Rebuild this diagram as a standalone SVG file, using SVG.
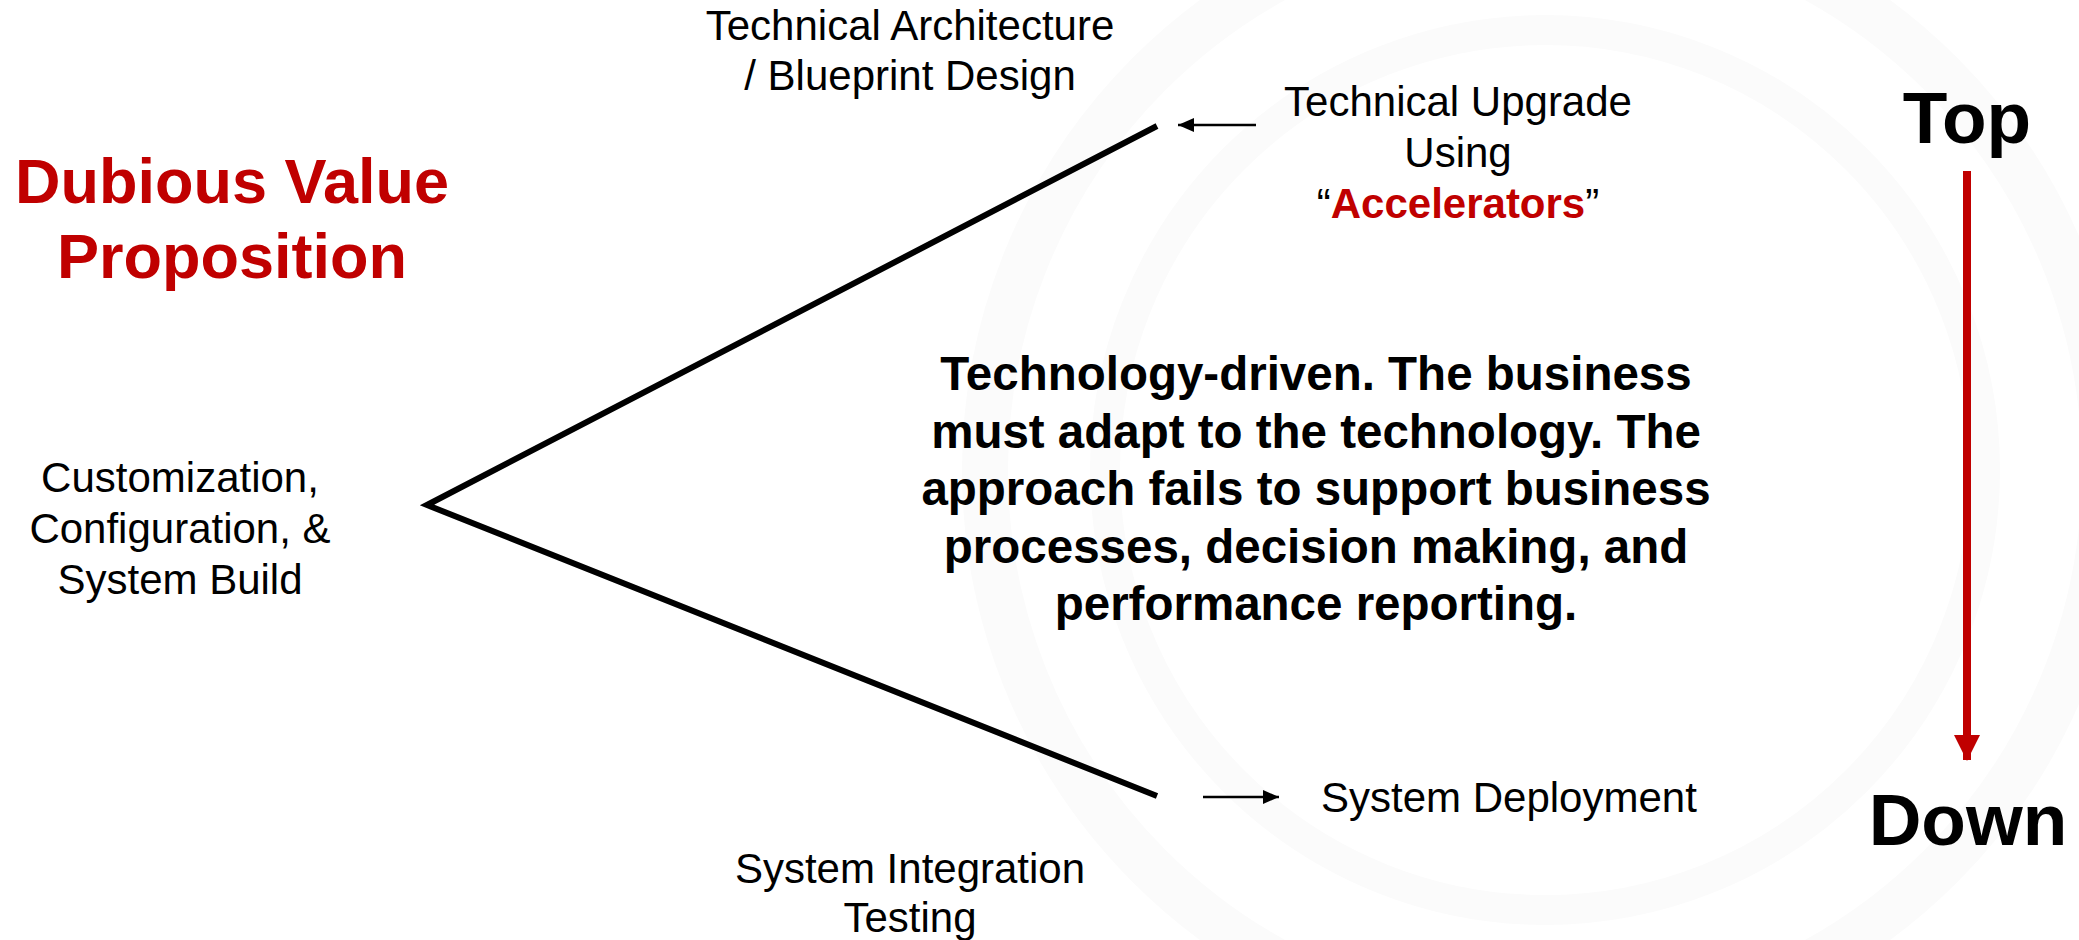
<svg xmlns="http://www.w3.org/2000/svg" width="2079" height="940" viewBox="0 0 2079 940">
<defs>
<style>
.t{font-family:"Liberation Sans",Arial,sans-serif;font-size:42px;fill:#000;text-anchor:middle}
.b{font-family:"Liberation Sans",Arial,sans-serif;font-weight:bold;text-anchor:middle}
.red{fill:#C00000}
.edge{stroke:#000;stroke-width:6;fill:none;stroke-linejoin:miter}
.thin{stroke:#000;stroke-width:2.5;fill:none}
.wm{fill:none;stroke:#fbfbfb}
</style>
<marker id="ah" viewBox="0 0 16 14" refX="16" refY="7" markerWidth="16" markerHeight="14" markerUnits="userSpaceOnUse" orient="auto">
<path d="M0,0 L16,7 L0,14 Z" fill="#000"/>
</marker>
<marker id="ahr" viewBox="0 0 26 26" refX="13" refY="25" markerWidth="26" markerHeight="26" markerUnits="userSpaceOnUse" orient="0">
<path d="M0,0 L26,0 L13,26 Z" fill="#C00000"/>
</marker>
</defs>
<rect width="2079" height="940" fill="#fff"/>
<g id="watermark">
<circle class="wm" cx="1545" cy="470" r="560" stroke-width="46"/>
<circle class="wm" cx="1545" cy="470" r="440" stroke-width="30"/>
</g>
<g id="title">
<text class="b red" x="232" y="203" font-size="63">Dubious Value</text>
<text class="b red" x="232" y="278" font-size="63">Proposition</text>
</g>
<g id="connectors">
<polyline class="edge" points="1157,126 427,505 1157,796"/>
<line class="thin" x1="1256" y1="125" x2="1178" y2="125" marker-end="url(#ah)"/>
<line class="thin" x1="1203" y1="797" x2="1279" y2="797" marker-end="url(#ah)"/>
<line x1="1967" y1="171" x2="1967" y2="760" stroke="#C00000" stroke-width="8" marker-end="url(#ahr)"/>
</g>
<g id="node-architecture">
<text class="t" x="910" y="40">Technical Architecture</text>
<text class="t" x="910" y="90">/ Blueprint Design</text>
</g>
<g id="node-upgrade">
<text class="t" x="1458" y="116">Technical Upgrade</text>
<text class="t" x="1458" y="167">Using</text>
<text class="t" x="1458" y="218">“<tspan class="red" font-weight="bold">Accelerators</tspan>”</text>
</g>
<g id="node-build">
<text class="t" x="180" y="492">Customization,</text>
<text class="t" x="180" y="543">Configuration, &amp;</text>
<text class="t" x="180" y="594">System Build</text>
</g>
<g id="node-sit">
<text class="t" x="910" y="883">System Integration</text>
<text class="t" x="910" y="932">Testing</text>
</g>
<g id="node-deployment">
<text class="t" x="1321" y="812" style="text-anchor:start">System Deployment</text>
</g>
<g id="statement">
<text class="b" x="1316" y="390" font-size="47.5">Technology-driven. The business</text>
<text class="b" x="1316" y="448" font-size="47.5">must adapt to the technology. The</text>
<text class="b" x="1316" y="505" font-size="47.5">approach fails to support business</text>
<text class="b" x="1316" y="563" font-size="47.5">processes, decision making, and</text>
<text class="b" x="1316" y="620" font-size="47.5">performance reporting.</text>
</g>
<g id="node-top">
<text class="b" x="1967" y="143" font-size="73">Top</text>
</g>
<g id="node-down">
<text class="b" x="1968" y="845" font-size="73">Down</text>
</g>
</svg>
